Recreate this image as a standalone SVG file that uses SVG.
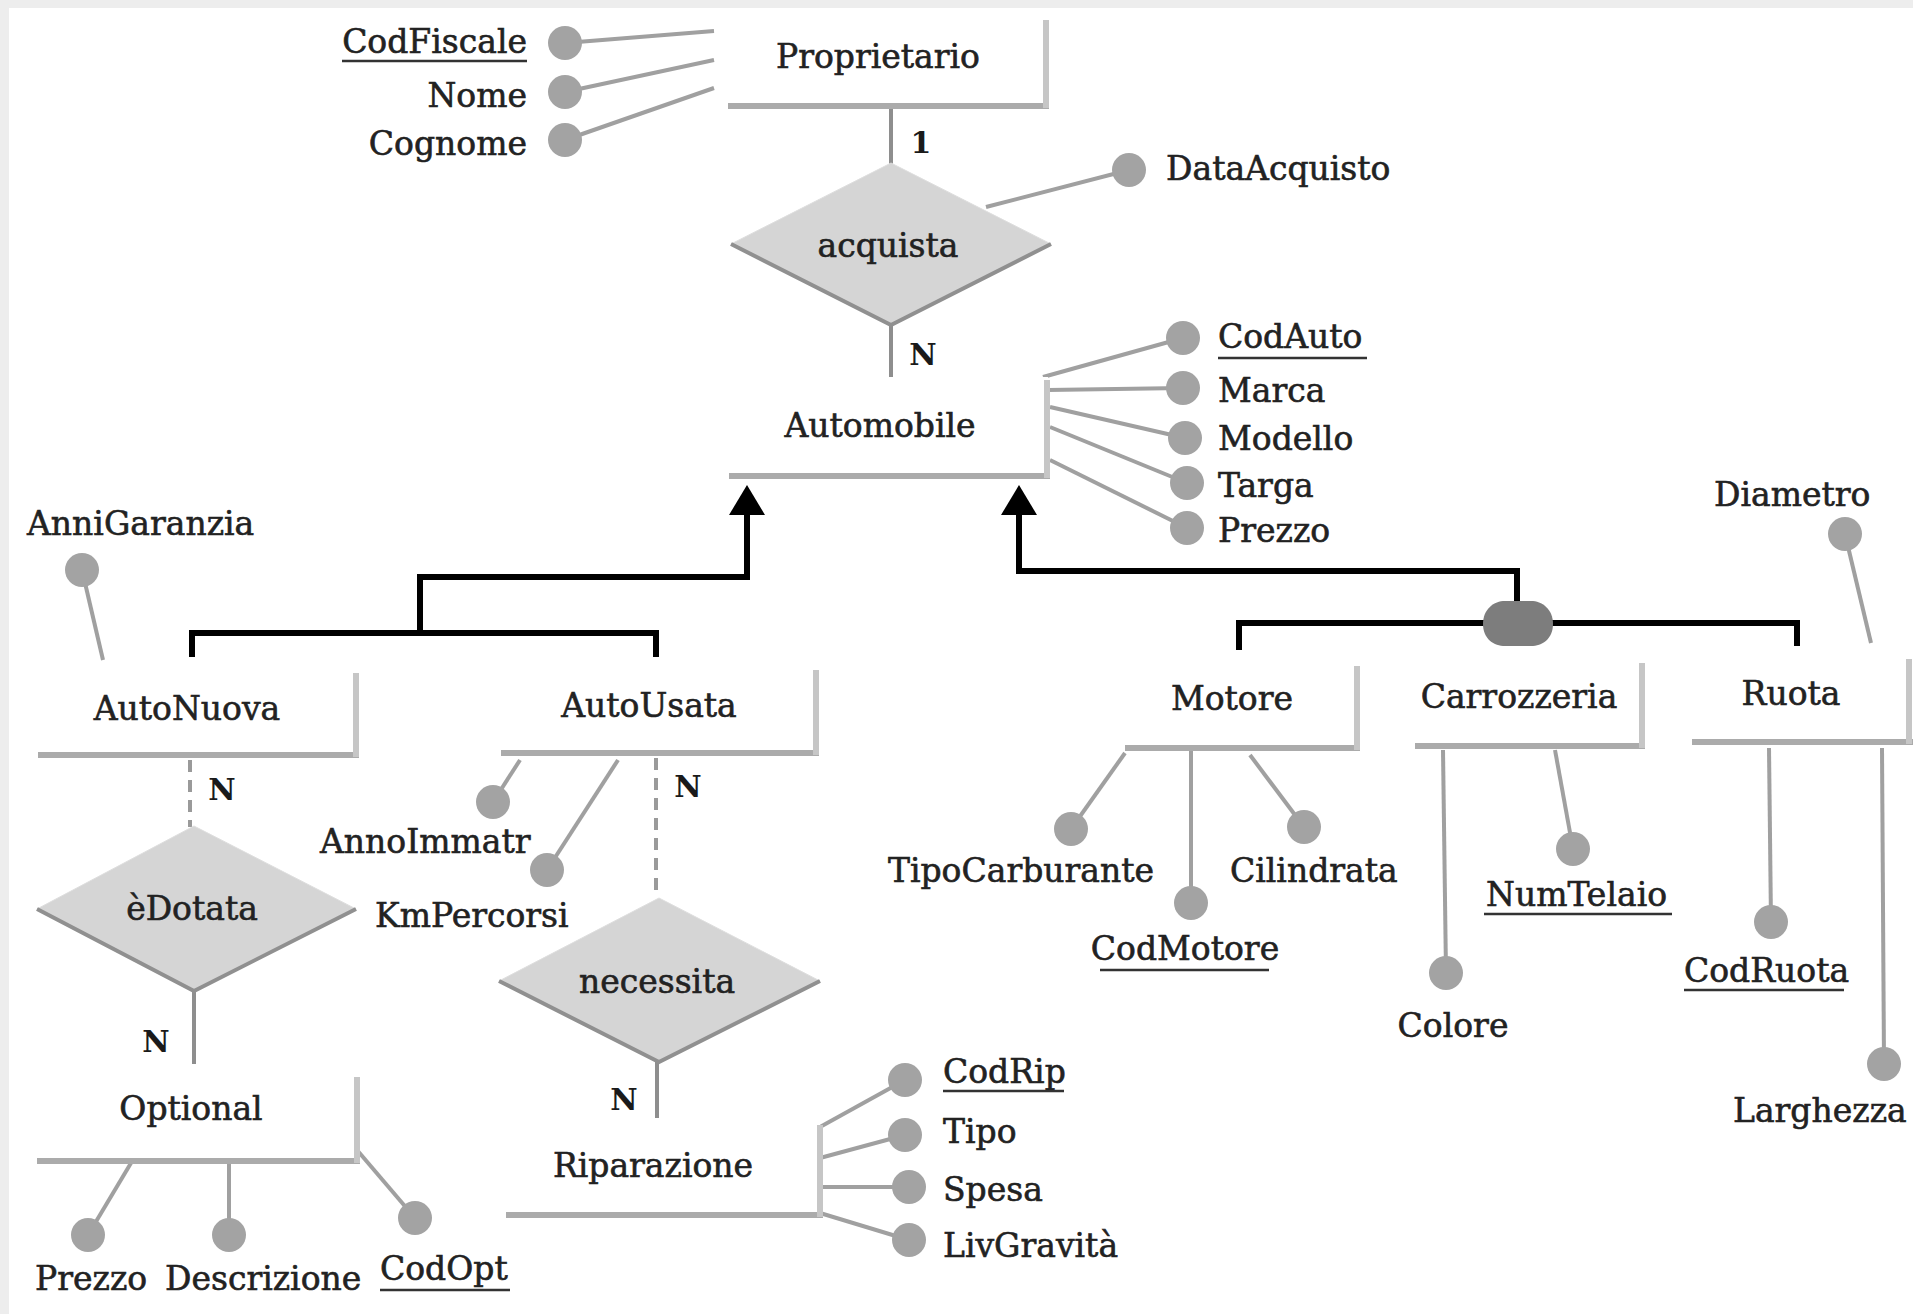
<svg xmlns="http://www.w3.org/2000/svg" width="1913" height="1314" viewBox="0 0 1913 1314">
<defs>
<style>
text{font-family:"DejaVu Serif","Liberation Serif",serif;font-size:33px;fill:#222;stroke:#222;stroke-width:0.6}
.m{text-anchor:middle}.e{text-anchor:end}
.card{font-weight:bold;font-size:30px;text-anchor:middle;fill:#1a1a1a;stroke:none}
.ent{fill:#ffffff}
.eb{stroke:#ababab;stroke-width:6;fill:none}
.er{stroke:#c6c6c6;stroke-width:6;fill:none}
.rel{fill:#d5d5d5;stroke:#dedede;stroke-width:1}
.relsh{fill:none;stroke:#909090;stroke-width:4}
.att{fill:#a3a3a3}
.al{stroke:#a0a0a0;stroke-width:4;fill:none}
.rl{stroke:#8e8e8e;stroke-width:4;fill:none}
.dl{stroke:#9a9a9a;stroke-width:4;fill:none;stroke-dasharray:12 8}
.isa{stroke:#000;stroke-width:6;fill:none}
.ul{stroke:#333;stroke-width:2.5}
</style>
<marker id="tri" viewBox="0 0 30 36" markerWidth="30" markerHeight="36" refX="0" refY="18" orient="auto" markerUnits="userSpaceOnUse"><path d="M0,0 L30,18 L0,36 z" fill="#000"/></marker>
</defs>
<rect width="1913" height="1314" fill="#fff"/>
<rect x="0" y="0" width="1913" height="8" fill="#ededed"/>
<rect x="0" y="0" width="9" height="1314" fill="#ededed"/>

<g id="connectors">
<line class="al" x1="565" y1="43" x2="714" y2="31"/>
<line class="al" x1="565" y1="92" x2="714" y2="60"/>
<line class="al" x1="565" y1="140" x2="714" y2="88"/>
<line class="rl" x1="891" y1="108" x2="891" y2="164"/>
<line class="rl" x1="891" y1="324" x2="891" y2="377"/>
<line class="al" x1="986" y1="207" x2="1129" y2="170"/>
<line class="al" x1="1043" y1="377" x2="1183" y2="338"/>
<line class="al" x1="1048" y1="390" x2="1183" y2="388"/>
<line class="al" x1="1050" y1="407" x2="1185" y2="438"/>
<line class="al" x1="1050" y1="427" x2="1187" y2="483"/>
<line class="al" x1="1050" y1="460" x2="1187" y2="528"/>
<line class="al" x1="82" y1="570" x2="103" y2="660"/>
<line class="dl" x1="190" y1="760" x2="190" y2="827"/>
<line class="dl" x1="656" y1="758" x2="656" y2="898"/>
<line class="al" x1="493" y1="802" x2="520" y2="760"/>
<line class="al" x1="547" y1="870" x2="618" y2="760"/>
<line class="rl" x1="194" y1="990" x2="194" y2="1064"/>
<line class="al" x1="131" y1="1163" x2="88" y2="1235"/>
<line class="al" x1="229" y1="1163" x2="229" y2="1235"/>
<line class="al" x1="357" y1="1150" x2="415" y2="1218"/>
<line class="rl" x1="657" y1="1061" x2="657" y2="1118"/>
<line class="al" x1="820" y1="1127" x2="905" y2="1080"/>
<line class="al" x1="820" y1="1158" x2="905" y2="1135"/>
<line class="al" x1="820" y1="1187" x2="909" y2="1187"/>
<line class="al" x1="820" y1="1213" x2="909" y2="1240"/>
<line class="al" x1="1125" y1="753" x2="1071" y2="829"/>
<line class="al" x1="1191" y1="750" x2="1191" y2="903"/>
<line class="al" x1="1250" y1="755" x2="1304" y2="827"/>
<line class="al" x1="1443" y1="750" x2="1446" y2="973"/>
<line class="al" x1="1555" y1="750" x2="1573" y2="849"/>
<line class="al" x1="1845" y1="534" x2="1871" y2="643"/>
<line class="al" x1="1769" y1="748" x2="1771" y2="922"/>
<line class="al" x1="1882" y1="748" x2="1884" y2="1064"/>
<path class="isa" d="M192,657 V633 H656 V657 M420,633 V577 H747 V515" marker-end="url(#tri)"/>
<path class="isa" d="M1239,650 V623 H1797 V646"/>
<path class="isa" d="M1517,602 V571 H1019 V515" marker-end="url(#tri)"/>
<path id="cover" d="M1483,624 C1483,609 1494,601 1505,601 L1531,601 C1542,601 1553,609 1553,624 C1553,639 1542,646 1531,646 L1505,646 C1494,646 1483,639 1483,624 Z" fill="#7d7d7d"/>
<text class="card" x="921" y="153">1</text>
<text class="card" x="923" y="365">N</text>
<text class="card" x="222" y="800">N</text>
<text class="card" x="688" y="797">N</text>
<text class="card" x="156" y="1052">N</text>
<text class="card" x="624" y="1110">N</text>
</g>

<g id="Proprietario">
<rect class="ent" x="728" y="20" width="320" height="88"/>
<line class="eb" x1="728" y1="106" x2="1049" y2="106"/>
<line class="er" x1="1046" y1="20" x2="1046" y2="108"/>
<text class="m" x="878" y="68">Proprietario</text>
</g>
<g id="attr-CodFiscale"><circle class="att" cx="565" cy="43" r="17"/><text class="e" x="527" y="53">CodFiscale</text><line class="ul" x1="342" y1="61" x2="527" y2="61"/></g>
<g id="attr-Nome"><circle class="att" cx="565" cy="92" r="17"/><text class="e" x="527" y="107">Nome</text></g>
<g id="attr-Cognome"><circle class="att" cx="565" cy="140" r="17"/><text class="e" x="527" y="155">Cognome</text></g>

<g id="acquista">
<polygon class="rel" points="731,244 891,163 1051,244 891,325"/>
<polyline class="relsh" points="731,244 891,325 1051,244"/>
<text class="m" x="888" y="257">acquista</text>
</g>
<g id="attr-DataAcquisto"><circle class="att" cx="1129" cy="170" r="17"/><text x="1166" y="180">DataAcquisto</text></g>

<g id="Automobile">
<rect class="ent" x="729" y="377" width="319" height="100"/>
<line class="eb" x1="729" y1="476" x2="1050" y2="476"/>
<line class="er" x1="1047" y1="380" x2="1047" y2="478"/>
<text class="m" x="880" y="437">Automobile</text>
</g>
<g id="attr-CodAuto"><circle class="att" cx="1183" cy="338" r="17"/><text x="1218" y="348">CodAuto</text><line class="ul" x1="1218" y1="358" x2="1367" y2="358"/></g>
<g id="attr-Marca"><circle class="att" cx="1183" cy="388" r="17"/><text x="1218" y="402">Marca</text></g>
<g id="attr-Modello"><circle class="att" cx="1185" cy="438" r="17"/><text x="1218" y="450">Modello</text></g>
<g id="attr-Targa"><circle class="att" cx="1187" cy="483" r="17"/><text x="1218" y="497">Targa</text></g>
<g id="attr-Prezzo-Auto"><circle class="att" cx="1187" cy="528" r="17"/><text x="1218" y="542">Prezzo</text></g>

<g id="AutoNuova">
<rect class="ent" x="38" y="673" width="320" height="84"/>
<line class="eb" x1="38" y1="755" x2="359" y2="755"/>
<line class="er" x1="356" y1="673" x2="356" y2="757"/>
<text class="m" x="187" y="720">AutoNuova</text>
</g>
<g id="attr-AnniGaranzia"><circle class="att" cx="82" cy="570" r="17"/><text x="27" y="535">AnniGaranzia</text></g>

<g id="AutoUsata">
<rect class="ent" x="501" y="670" width="315" height="85"/>
<line class="eb" x1="501" y1="753" x2="819" y2="753"/>
<line class="er" x1="816" y1="670" x2="816" y2="755"/>
<text class="m" x="649" y="717">AutoUsata</text>
</g>
<g id="attr-AnnoImmatr"><circle class="att" cx="493" cy="802" r="17"/><text x="320" y="853">AnnoImmatr</text></g>
<g id="attr-KmPercorsi"><circle class="att" cx="547" cy="870" r="17"/><text x="375" y="927">KmPercorsi</text></g>

<g id="eDotata">
<polygon class="rel" points="37,909 194,826 356,909 194,991"/>
<polyline class="relsh" points="37,909 194,991 356,909"/>
<text class="m" x="192" y="920">èDotata</text>
</g>

<g id="Optional">
<rect class="ent" x="37" y="1077" width="320" height="86"/>
<line class="eb" x1="37" y1="1161" x2="360" y2="1161"/>
<line class="er" x1="357" y1="1077" x2="357" y2="1163"/>
<text class="m" x="191" y="1120">Optional</text>
</g>
<g id="attr-Prezzo-Opt"><circle class="att" cx="88" cy="1235" r="17"/><text x="35" y="1290">Prezzo</text></g>
<g id="attr-Descrizione"><circle class="att" cx="229" cy="1235" r="17"/><text x="165" y="1290">Descrizione</text></g>
<g id="attr-CodOpt"><circle class="att" cx="415" cy="1218" r="17"/><text x="380" y="1280">CodOpt</text><line class="ul" x1="380" y1="1290" x2="510" y2="1290"/></g>

<g id="necessita">
<polygon class="rel" points="499,981 659,898 820,981 659,1062"/>
<polyline class="relsh" points="499,981 659,1062 820,981"/>
<text class="m" x="657" y="993">necessita</text>
</g>

<g id="Riparazione">
<rect class="ent" x="506" y="1118" width="314" height="99"/>
<line class="eb" x1="506" y1="1215" x2="823" y2="1215"/>
<line class="er" x1="820" y1="1125" x2="820" y2="1217"/>
<text class="m" x="653" y="1177">Riparazione</text>
</g>
<g id="attr-CodRip"><circle class="att" cx="905" cy="1080" r="17"/><text x="943" y="1083">CodRip</text><line class="ul" x1="943" y1="1091" x2="1064" y2="1091"/></g>
<g id="attr-Tipo"><circle class="att" cx="905" cy="1135" r="17"/><text x="943" y="1143">Tipo</text></g>
<g id="attr-Spesa"><circle class="att" cx="909" cy="1187" r="17"/><text x="943" y="1201">Spesa</text></g>
<g id="attr-LivGravita"><circle class="att" cx="909" cy="1240" r="17"/><text x="943" y="1257">LivGravità</text></g>

<g id="Motore">
<rect class="ent" x="1125" y="666" width="232" height="84"/>
<line class="eb" x1="1125" y1="748" x2="1360" y2="748"/>
<line class="er" x1="1357" y1="666" x2="1357" y2="750"/>
<text class="m" x="1232" y="710">Motore</text>
</g>
<g id="attr-TipoCarburante"><circle class="att" cx="1071" cy="829" r="17"/><text class="m" x="1021" y="882">TipoCarburante</text></g>
<g id="attr-CodMotore"><circle class="att" cx="1191" cy="903" r="17"/><text class="m" x="1185" y="960">CodMotore</text><line class="ul" x1="1100" y1="970" x2="1269" y2="970"/></g>
<g id="attr-Cilindrata"><circle class="att" cx="1304" cy="827" r="17"/><text x="1230" y="882">Cilindrata</text></g>

<g id="Carrozzeria">
<rect class="ent" x="1415" y="663" width="227" height="85"/>
<line class="eb" x1="1415" y1="746" x2="1645" y2="746"/>
<line class="er" x1="1642" y1="663" x2="1642" y2="748"/>
<text class="m" x="1519" y="708">Carrozzeria</text>
</g>
<g id="attr-Colore"><circle class="att" cx="1446" cy="973" r="17"/><text class="m" x="1453" y="1037">Colore</text></g>
<g id="attr-NumTelaio"><circle class="att" cx="1573" cy="849" r="17"/><text x="1486" y="906">NumTelaio</text><line class="ul" x1="1484" y1="914" x2="1672" y2="914"/></g>

<g id="Ruota">
<rect class="ent" x="1692" y="659" width="218" height="85"/>
<line class="eb" x1="1692" y1="742" x2="1913" y2="742"/>
<line class="er" x1="1909" y1="659" x2="1909" y2="744"/>
<text class="m" x="1791" y="705">Ruota</text>
</g>
<g id="attr-Diametro"><circle class="att" cx="1845" cy="534" r="17"/><text x="1714" y="506">Diametro</text></g>
<g id="attr-CodRuota"><circle class="att" cx="1771" cy="922" r="17"/><text x="1684" y="982">CodRuota</text><line class="ul" x1="1684" y1="990" x2="1844" y2="990"/></g>
<g id="attr-Larghezza"><circle class="att" cx="1884" cy="1064" r="17"/><text x="1733" y="1122">Larghezza</text></g>
</svg>
